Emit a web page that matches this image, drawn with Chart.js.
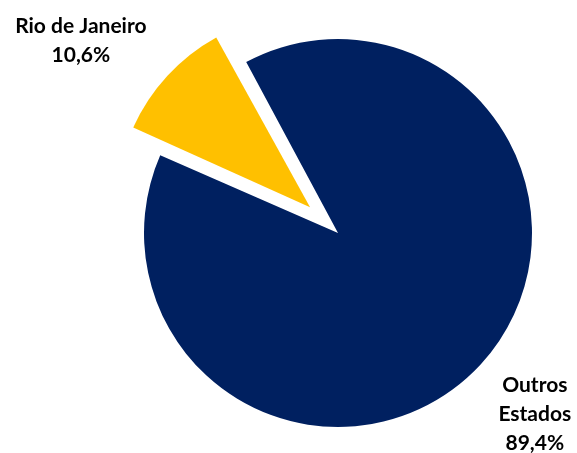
<!DOCTYPE html>
<html>
<head>
<meta charset="utf-8">
<script src="https://cdn.jsdelivr.net/npm/chart.js@4"></script>
<style>
  html, body { margin: 0; padding: 0; background: #fff; }
  #wrap { width: 577px; height: 453px; position: relative; }
</style>
</head>
<body>
<div id="wrap"><canvas id="grafico"></canvas></div>
<script>
// Dados do gráfico
const estados = ['Rio de Janeiro', 'Outros Estados'];
const participacao = [10.6, 89.4];
const cores = ['#FFC000', '#002060'];

// Fatia destacada (deslocamento visual em px)
const destaque = [38, 0];

// Posição dos rótulos: fator do raio e desvio angular (graus)
const rotulosPos = [
    { k: 1.46, dAng: -6.7, quebra: false },
    { k: 1.38, dAng: 0, quebra: true }
];

function formataPct(v) {
    return v.toFixed(1).replace('.', ',') + '%';
}

// Ajusta o raio das fatias deslocadas (o Chart.js aumenta o raio junto com o offset)
const ajusteOffset = {
    id: 'ajusteOffset',
    afterDatasetUpdate(chart, args) {
        args.meta.data.forEach(arc => {
            const off = (arc.options.offset || 0) / 4;
            if (off > 0) {
                const fix = 1 - Math.sin(Math.min(Math.PI, arc.circumference || 0));
                arc.outerRadius = arc.outerRadius - off * fix;
            }
        });
    }
};

// Rótulos de dados
const rotulos = {
    id: 'rotulos',
    afterDatasetsDraw(chart) {
        const ctx = chart.ctx;
        const meta = chart.getDatasetMeta(0);
        ctx.save();
        ctx.fillStyle = '#000';
        ctx.font = 'bold 21px Lato';
        ctx.textAlign = 'center';
        ctx.textBaseline = 'middle';
        meta.data.forEach((arc, i) => {
            const meio = (arc.startAngle + arc.endAngle) / 2;
            const desl = (arc.options.offset || 0) / 4;
            const cx = arc.x + Math.cos(meio) * desl;
            const cy = arc.y + Math.sin(meio) * desl;
            const p = rotulosPos[i];
            const ang = meio + p.dAng * Math.PI / 180;
            const r = chart.config.options.radius * p.k;
            const lx = cx + Math.cos(ang) * r;
            const ly = cy + Math.sin(ang) * r;
            let linhas = p.quebra ? estados[i].split(' ') : [estados[i]];
            linhas = linhas.concat([formataPct(participacao[i])]);
            const alt = 29;
            const y0 = ly - (linhas.length - 1) * alt / 2;
            linhas.forEach((t, j) => ctx.fillText(t, lx, y0 + j * alt));
        });
        ctx.restore();
    }
};

new Chart(document.getElementById('grafico'), {
    type: 'pie',
    data: {
        labels: estados,
        datasets: [{
            data: participacao,
            backgroundColor: cores,
            borderWidth: 0,
            offset: destaque.map(d => d * 4)
        }]
    },
    options: {
        responsive: true,
        maintainAspectRatio: false,
        animation: false,
        radius: 194,
        rotation: -66.4,
        layout: { padding: { left: 99, top: 13, right: 0, bottom: 0 } },
        plugins: {
            legend: { display: false },
            tooltip: { enabled: false }
        }
    },
    plugins: [ajusteOffset, rotulos]
});
</script>
</body>
</html>
